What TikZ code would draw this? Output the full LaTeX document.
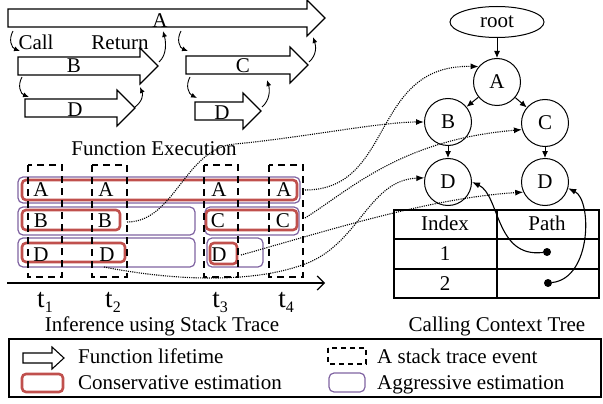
\documentclass[tikz,border=0pt]{standalone}
\usepackage{fontspec}
\setmainfont{Liberation Serif}
\usetikzlibrary{arrows.meta,shapes.geometric}

\definecolor{consred}{RGB}{192,80,77}
\definecolor{aggrpurple}{RGB}{128,100,162}

\tikzset{
    fnbox/.style={draw, line width=1.1pt, fill=white},
    cons/.style={draw=consred, line width=2.6pt, rounded corners=4pt},
    aggr/.style={draw=aggrpurple, line width=1.2pt, rounded corners=5pt},
    event/.style={draw, line width=2.2pt, dash pattern=on 7pt off 5pt},
    callarr/.style={-{Latex[length=6pt,width=5pt]}, line width=0.9pt},
    link/.style={-{Latex[length=8pt,width=6pt]}, line width=1.1pt, dash pattern=on 1.1pt off 1.1pt},
    ptr/.style={-{Latex[length=8pt,width=6pt]}, line width=1.1pt},
    tedge/.style={-{Latex[length=7pt,width=6pt]}, line width=1pt},
    tnode/.style={draw, circle, line width=1pt, minimum size=47pt, inner sep=0pt},
    rootnode/.style={draw, ellipse, line width=1pt, minimum width=94pt, minimum height=31pt, inner sep=0pt},
    lbl/.style={inner sep=0pt},
    tlbl/.style={inner sep=0pt, anchor=base, font=\fontsize{27}{30}\selectfont},
    dot/.style={circle, fill, inner sep=0pt, minimum size=8pt},
}

% стрелка функции: левый x, x острия, y центра
\newcommand{\funcarrow}[3]{%
    \draw [fnbox] ( #1, #3-9 ) -- ( #2-18, #3-9 ) -- ( #2-18, #3-18 ) -- ( #2, #3 )
        -- ( #2-18, #3+18 ) -- ( #2-18, #3+9 ) -- ( #1, #3+9 ) -- cycle;}
% момент времени с индексом
\newcommand{\evtime}[1]{t\raisebox{-0.2em}{\fontsize{16}{16}\selectfont #1}}

\begin{document}
\begin{tikzpicture}[x=1pt, y=-1pt, font=\fontsize{21}{24}\selectfont]
    \useasboundingbox ( 0, 0 ) rectangle ( 603, 404 );

    % выполнение функций
    \funcarrow{8}{325}{18}
    \funcarrow{18}{158}{66}
    \funcarrow{25}{135}{108}
    \funcarrow{186}{308}{65}
    \funcarrow{195}{261}{111}
    \node [lbl] (fA) at ( 160, 21 ) {A};
    \node [lbl] (fB) at ( 74, 66 ) {B};
    \node [lbl] (fD1) at ( 75, 110 ) {D};
    \node [lbl] (fC) at ( 243, 66 ) {C};
    \node [lbl] (fD2) at ( 222, 113 ) {D};
    \node [lbl, anchor=base] (call) at ( 36, 50 ) {Call};
    \node [lbl, anchor=base] (ret) at ( 120, 50 ) {Return};

    % вызовы и возвраты
    \draw [callarr] ( 13, 31 ) .. controls ( 8, 40 ) and ( 12, 48 ) .. ( 20, 51 );
    \draw [callarr] ( 22, 77 ) .. controls ( 17, 86 ) and ( 21, 94 ) .. ( 29, 97 );
    \draw [callarr] ( 181, 31 ) .. controls ( 176, 40 ) and ( 180, 48 ) .. ( 188, 51 );
    \draw [callarr] ( 190, 77 ) .. controls ( 185, 86 ) and ( 189, 94 ) .. ( 197, 98 );
    \draw [callarr] ( 159, 62 ) .. controls ( 167, 55 ) and ( 166, 42 ) .. ( 163, 31 );
    \draw [callarr] ( 135, 107 ) .. controls ( 143, 101 ) and ( 143, 94 ) .. ( 140, 87 );
    \draw [callarr] ( 309, 62 ) .. controls ( 317, 55 ) and ( 316, 46 ) .. ( 313, 37 );
    \draw [callarr] ( 262, 107 ) .. controls ( 270, 100 ) and ( 270, 90 ) .. ( 267, 80 );
    \node [lbl, anchor=base] (fexec) at ( 154, 155 ) {Function Execution};

    % агрессивная оценка
    \draw [aggr] ( 18, 177 ) rectangle ( 300, 203 );
    \draw [aggr] ( 18, 207 ) rectangle ( 195, 235 );
    \draw [aggr] ( 205, 207 ) rectangle ( 299, 235 );
    \draw [aggr] ( 18, 238 ) rectangle ( 195, 267 );
    \draw [aggr] ( 207, 238 ) rectangle ( 263, 267 );
    % консервативная оценка
    \draw [cons] ( 22, 180 ) rectangle ( 297, 200 );
    \draw [cons] ( 22, 210 ) rectangle ( 120, 230 );
    \draw [cons] ( 206, 210 ) rectangle ( 297, 230 );
    \draw [cons] ( 22, 243 ) rectangle ( 125, 262 );
    \draw [cons] ( 210, 243 ) rectangle ( 237, 264 );
    % события стека
    \draw [event] ( 28, 165 ) rectangle ( 62, 277 );
    \draw [event] ( 92, 165 ) rectangle ( 127, 277 );
    \draw [event] ( 204, 165 ) rectangle ( 238, 277 );
    \draw [event] ( 269, 165 ) rectangle ( 303, 277 );

    % кадры стека
    \node [lbl] (s1A) at ( 41, 190 ) {A};
    \node [lbl] (s1B) at ( 41, 221 ) {B};
    \node [lbl] (s1D) at ( 41, 255 ) {D};
    \node [lbl] (s2A) at ( 106, 190 ) {A};
    \node [lbl] (s2B) at ( 105, 221 ) {B};
    \node [lbl] (s2D) at ( 107, 255 ) {D};
    \node [lbl] (s3A) at ( 219, 190 ) {A};
    \node [lbl] (s3C) at ( 218, 221 ) {C};
    \node [lbl] (s3D) at ( 219, 255 ) {D};
    \node [lbl] (s4A) at ( 284, 190 ) {A};
    \node [lbl] (s4C) at ( 283, 221 ) {C};

    % ось времени
    \draw [line width=1.2pt, -{Straight Barb[length=7pt,width=14pt]}] ( 7, 283 ) -- ( 325, 283 );
    \node [tlbl] (t1) at ( 45, 307 ) {\evtime{1}};
    \node [tlbl] (t2) at ( 113, 307 ) {\evtime{2}};
    \node [tlbl] (t3) at ( 220, 307 ) {\evtime{3}};
    \node [tlbl] (t4) at ( 286, 307 ) {\evtime{4}};
    \node [lbl, anchor=base] (infer) at ( 162, 331 ) {Inference using Stack Trace};

    % дерево контекстов
    \node [rootnode] (root) at ( 497, 22 ) {root};
    \node [tnode] (ta) at ( 497, 82 ) {A};
    \node [tnode] (tb) at ( 448, 122 ) {B};
    \node [tnode] (tc) at ( 545, 123 ) {C};
    \node [tnode] (tdl) at ( 448, 182 ) {D};
    \node [tnode] (tdr) at ( 545, 182 ) {D};
    \draw [tedge] (root) -- (ta);
    \draw [tedge] (ta) -- (tb);
    \draw [tedge] (ta) -- (tc);
    \draw [tedge] (tb) -- (tdl);
    \draw [tedge] (tc) -- (tdr);

    % таблица путей
    \draw [line width=1.1pt] ( 394, 210 ) rectangle ( 599, 298 );
    \draw [line width=1.1pt] ( 394, 239 ) -- ( 599, 239 );
    \draw [line width=1.1pt] ( 394, 269 ) -- ( 599, 269 );
    \draw [line width=1.1pt] ( 497, 210 ) -- ( 497, 298 );
    \node [lbl, anchor=base] (hidx) at ( 445, 230 ) {Index};
    \node [lbl, anchor=base] (hpath) at ( 547, 230 ) {Path};
    \node [lbl, anchor=base] (i1) at ( 445, 260 ) {1};
    \node [lbl, anchor=base] (i2) at ( 445, 290 ) {2};
    \node [dot] (p1) at ( 547, 252 ) {};
    \node [dot] (p2) at ( 548, 283 ) {};
    \draw [ptr] (p1) .. controls ( 495, 258 ) and ( 500, 195 ) .. (tdl.east);
    \draw [ptr] (p2) .. controls ( 592, 278 ) and ( 592, 200 ) .. (tdr.-15);
    \node [lbl, anchor=base] (cct) at ( 497, 331 ) {Calling Context Tree};

    % связи кадров с деревом
    \coordinate (outA) at ( 305, 190 );
    \coordinate (outB) at ( 127, 222 );
    \coordinate (outC) at ( 305, 218 );
    \coordinate (outDt2) at ( 104, 267 );
    \coordinate (outDt3) at ( 241, 255 );
    \draw [link] (outA) .. controls ( 395, 190 ) and ( 370, 64 ) .. (ta.140);
    \draw [link] (outB) .. controls ( 175, 222 ) and ( 185, 148 ) .. ( 235, 144 )
        .. controls ( 300, 138 ) and ( 380, 122 ) .. (tb.west);
    \draw [link] (outC) .. controls ( 350, 190 ) and ( 400, 140 ) .. (tc.196);
    \draw [link] (outDt3) .. controls ( 330, 230 ) and ( 430, 198 ) .. (tdr.205);
    \draw [link] (outDt2) .. controls ( 180, 282 ) and ( 260, 283 ) .. ( 310, 262 )
        .. controls ( 360, 240 ) and ( 370, 180 ) .. (tdl.170);

    % легенда
    \draw [line width=1.1pt] ( 9, 339 ) rectangle ( 601, 397 );
    \draw [fnbox] ( 23, 353 ) -- ( 52, 353 ) -- ( 52, 347 ) -- ( 64, 358 ) -- ( 52, 369 )
        -- ( 52, 363 ) -- ( 23, 363 ) -- cycle;
    \node [lbl, anchor=base west] (lgfn) at ( 78, 363 ) {Function lifetime};
    \draw [line width=2pt, dash pattern=on 5pt off 4pt] ( 328, 348 ) rectangle ( 366, 364 );
    \node [lbl, anchor=base west] (lgev) at ( 377, 363 ) {A stack trace event};
    \draw [cons] ( 22, 374 ) rectangle ( 63, 392 );
    \node [lbl, anchor=base west] (lgcons) at ( 78, 389 ) {Conservative estimation};
    \draw [aggr] ( 329, 373 ) rectangle ( 365, 392 );
    \node [lbl, anchor=base west] (lgaggr) at ( 377, 389 ) {Aggressive estimation};
\end{tikzpicture}
\end{document}
